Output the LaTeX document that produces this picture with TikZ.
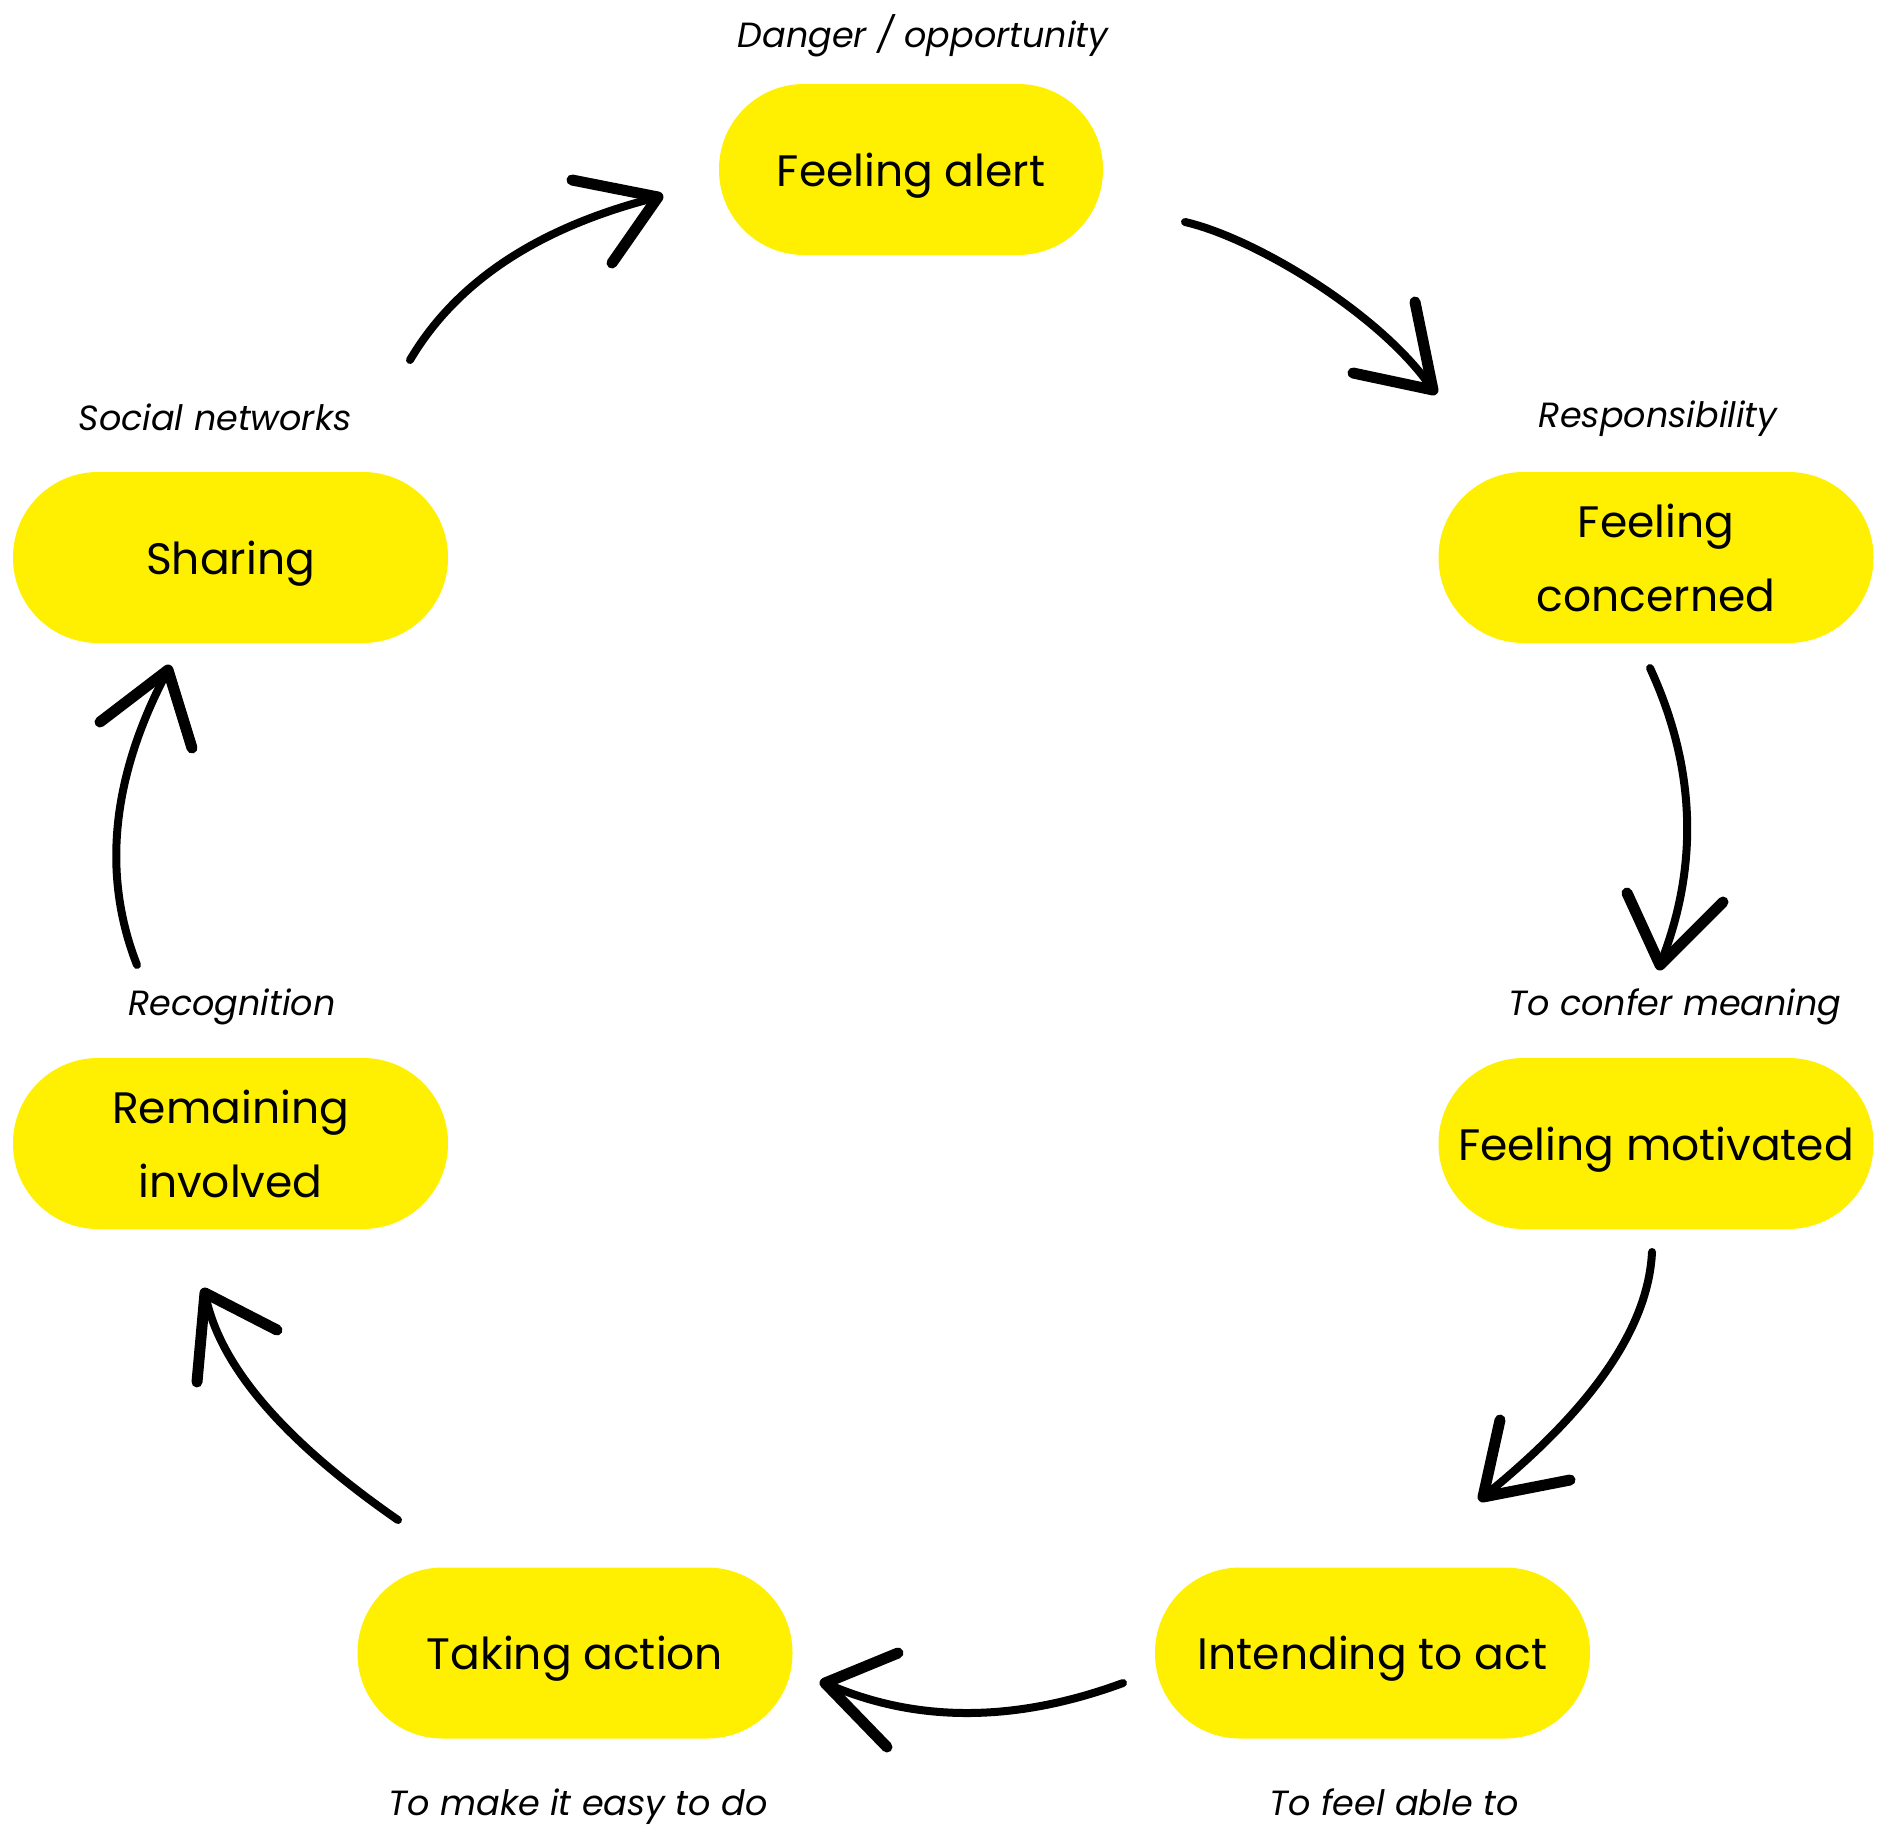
\documentclass[tikz,border=0pt]{standalone}
\usepackage{fontspec}
\setmainfont{Poppins}
\definecolor{pillyellow}{RGB}{254,240,0}
\tikzset{
  pill/.style={draw=none, fill=pillyellow, rectangle, rounded corners=85pt,
    minimum width=435pt, minimum height=171pt, inner sep=0pt, align=center,
    font=\fontsize{44}{74}\selectfont},
  oneline/.style={text depth=0pt},
  lbl/.style={anchor=base, inner sep=0pt, font=\fontsize{35}{40}\selectfont\itshape},
  shaft/.style={line width=8pt, line cap=round, black},
  barb/.style={line width=11pt, line cap=round, line join=round, black}
}
\begin{document}
\begin{tikzpicture}[x=1pt,y=-1pt]
\useasboundingbox (0,0) rectangle (1892,1826);
% nodes
\node[pill, oneline, minimum width=384pt] (alert) at (911,169.5) {Feeling alert};
\node[pill] (concerned) at (1656,557.5) {Feeling\\concerned};
\node[pill, oneline] (motivated) at (1656,1143.5) {Feeling motivated};
\node[pill, oneline] (intending) at (1372.5,1653) {Intending to act};
\node[pill, oneline] (taking) at (575,1653) {Taking action};
\node[pill] (remaining) at (230.5,1143.5) {Remaining\\involved};
\node[pill, oneline] (sharing) at (230.5,557.5) {Sharing};
% labels
\node[lbl] (l1) at (923,47) {Danger / opportunity};
\node[lbl] (l2) at (1658,427) {Responsibility};
\node[lbl] (l3) at (1675,1015) {To confer meaning};
\node[lbl] (l4) at (1394,1815) {To feel able to};
\node[lbl] (l5) at (578,1815) {To make it easy to do};
\node[lbl] (l6) at (232,1015) {Recognition};
\node[lbl] (l7) at (215,430) {Social networks};
% arrow coordinates
\coordinate (s1) at (1185,222); \coordinate (t1) at (1433,390);
\coordinate (a1) at (1415,302); \coordinate (b1) at (1353,373);
\coordinate (s2) at (1650,668); \coordinate (t2) at (1660,965);
\coordinate (a2) at (1627,893); \coordinate (b2) at (1723,902);
\coordinate (s3) at (1652,1252); \coordinate (t3) at (1483,1497);
\coordinate (a3) at (1500,1420); \coordinate (b3) at (1570,1480);
\coordinate (s4) at (1123,1683); \coordinate (t4) at (825,1683);
\coordinate (a4) at (898,1653); \coordinate (b4) at (887,1747);
\coordinate (s5) at (398,1520); \coordinate (t5) at (205,1293);
\coordinate (a5) at (197,1382); \coordinate (b5) at (277,1330);
\coordinate (s6) at (137,965); \coordinate (t6) at (168,670);
\coordinate (a6) at (100,722); \coordinate (b6) at (192,748);
\coordinate (s7) at (410,360); \coordinate (t7) at (658,197);
\coordinate (a7) at (572,180); \coordinate (b7) at (612,263);
% arrows
\draw[shaft] (s1) .. controls (1255,238) and (1383,315) .. (t1);
\draw[barb] (a1) -- (t1) -- (b1);
\draw[shaft] (s2) .. controls (1696,767.7) and (1699.3,866.7) .. (t2);
\draw[barb] (a2) -- (t2) -- (b2);
\draw[shaft] (s3) .. controls (1648.3,1327.7) and (1592,1409.3) .. (t3);
\draw[barb] (a3) -- (t3) -- (b3);
\draw[shaft] (s4) .. controls (1014.3,1723) and (915,1723) .. (t4);
\draw[barb] (a4) -- (t4) -- (b4);
\draw[shaft] (s5) .. controls (282.3,1439.7) and (218,1364) .. (t5);
\draw[barb] (a5) -- (t5) -- (b5);
\draw[shaft] (s6) .. controls (101.3,874) and (111.7,775.7) .. (t6);
\draw[barb] (a6) -- (t6) -- (b6);
\draw[shaft] (s7) .. controls (456.7,281) and (539.3,226.7) .. (t7);
\draw[barb] (a7) -- (t7) -- (b7);
\end{tikzpicture}
\end{document}
